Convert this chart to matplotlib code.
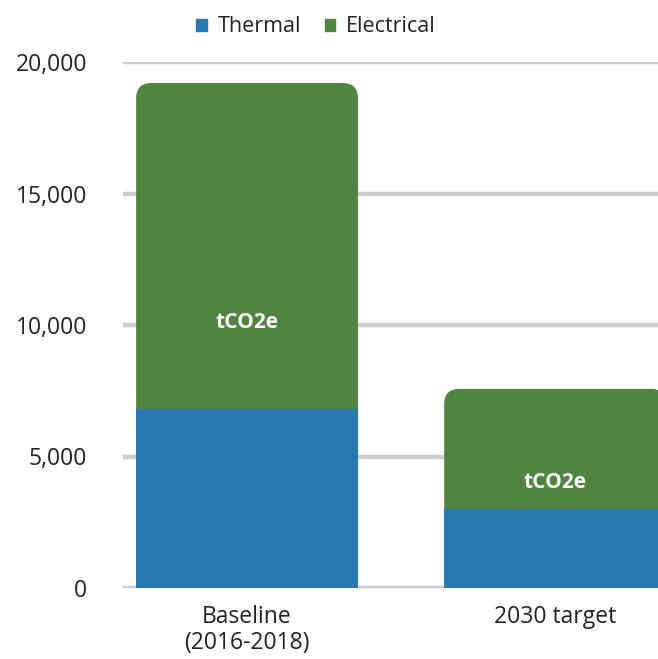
import matplotlib.pyplot as plt
from matplotlib.patches import FancyBboxPatch, Patch

categories = ['Baseline\n(2016-2018)', '2030 target']
thermal = [6800, 3000]
electrical = [12400, 4570]
label_y = [10100, 4000]

blue = '#2a78b1'
green = '#518341'
grid_col = '#cccccc'

plt.rcParams['font.family'] = ['Open Sans', 'DejaVu Sans']

fig = plt.figure(figsize=(6.58, 6.59), dpi=100)
ax = fig.add_axes([123 / 658, 71 / 659, 535 / 658, 526 / 659])

x = list(range(len(categories)))
totals = [t + e for t, e in zip(thermal, electrical)]
width = 0.72

# full-height green bars, replaced by rounded patches; thermal drawn over them
tmp = ax.bar(x, totals, width=width, color=green, zorder=2)
rx = 0.05
ry = 570
for r in tmp:
    bx, by = r.get_x(), r.get_y()
    bw, bh = r.get_width(), r.get_height()
    r.remove()
    p = FancyBboxPatch((bx, by), bw, bh,
                       boxstyle=f'round,pad=0,rounding_size={rx}',
                       mutation_aspect=ry / rx,
                       facecolor=green, edgecolor='none', zorder=2)
    ax.add_patch(p)
ax.bar(x, thermal, width=width, color=blue, zorder=3)

for xi, yi in zip(x, label_y):
    ax.text(xi, yi, 'tCO2e', color='white', fontsize=15, fontweight='bold',
            ha='center', va='center', zorder=4)

ax.set_xlim(-0.4026, 1.334)
ax.set_ylim(0, 20000)
ax.set_yticks([0, 5000, 10000, 15000, 20000])
ax.set_yticklabels(['0', '5,000', '10,000', '15,000', '20,000'])
ax.set_xticks(x)
ax.set_xticklabels(categories)
ax.yaxis.grid(True, color=grid_col, linewidth=3.2, zorder=0)
ax.set_axisbelow(True)
for s in ax.spines.values():
    s.set_visible(False)
ax.tick_params(axis='both', length=0, labelsize=16.5, colors='#222222')
ax.tick_params(axis='y', pad=26)
ax.tick_params(axis='x', pad=12)
for t in ax.get_xticklabels():
    t.set_linespacing(1.15)

handles = [Patch(color=blue, label='Thermal'), Patch(color=green, label='Electrical')]
fig.legend(handles=handles, loc='center', bbox_to_anchor=(316 / 658, 1 - 27 / 659),
           ncol=2, frameon=False, fontsize=15.5, handlelength=0.5, handleheight=0.5,
           handletextpad=0.5, columnspacing=1.1, labelcolor='#222222')

fig.savefig('out.png', dpi=100)
